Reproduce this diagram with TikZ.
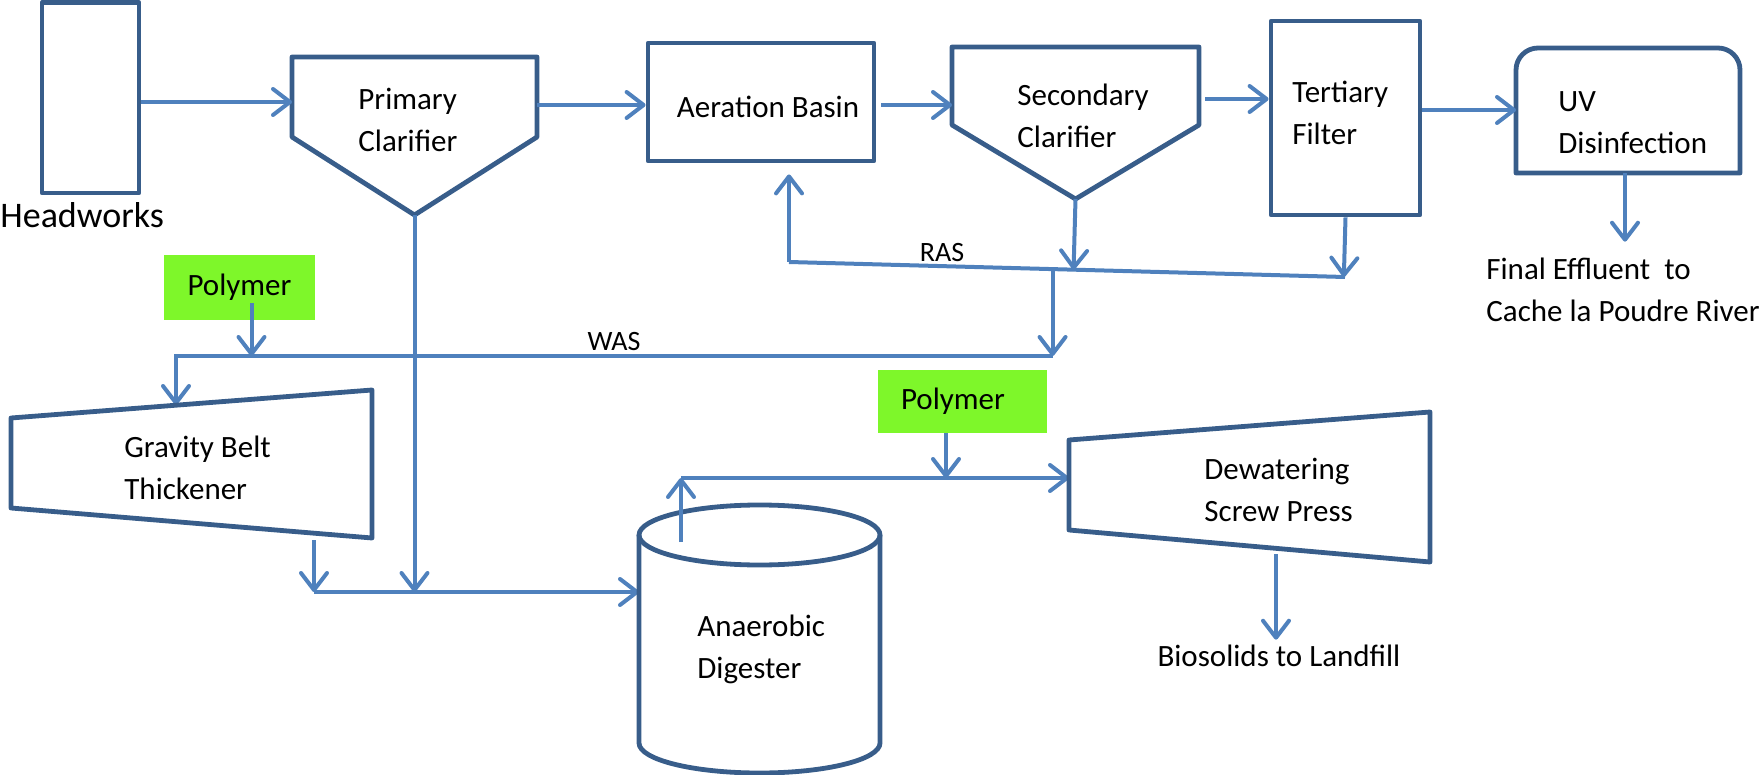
\documentclass[tikz,border=0pt]{standalone}
\usepackage{fontspec}
\setmainfont{Carlito}
\usetikzlibrary{arrows.meta}
\usetikzlibrary{calc}
\definecolor{boxblue}{RGB}{56,93,138}
\definecolor{pipeblue}{RGB}{79,129,189}
\definecolor{polygreen}{RGB}{126,247,42}
\tikzset{
  % outlines of the process units
  unit/.style={draw=boxblue, line width=2.4pt, line join=round},
  box/.style={unit, rectangle, inner sep=0pt},
  % pipes
  pipe/.style={pipeblue, line width=2pt},
  flow/.style={pipe, -{Straight Barb[length=8.5pt, width=13pt, round]}},
  % text
  txt/.style={font=\fontsize{15.5}{21}\selectfont, align=left, inner sep=0pt, anchor=west},
  tag/.style={font=\fontsize{14}{17}\selectfont, inner sep=0pt},
  chem/.style={fill=polygreen, inner sep=0pt, font=\fontsize{15.5}{18}\selectfont},
}

\begin{document}
\begin{tikzpicture}[x=0.5pt, y=-0.5pt]
  \useasboundingbox (0,0) rectangle (1761,775);

  % top line: liquid train
  \node[box, minimum width=48.5pt, minimum height=95.25pt] (hw) at (90.5,97.75) {};
  \node[txt, font=\fontsize{18}{20}\selectfont] (hwt) at (0,215) {Headworks};

  \draw[unit] (292,57) -- (537,57) -- (537,137) -- (414.5,215) coordinate (pc) -- (292,137) -- cycle;
  \coordinate (pc-in) at (292,102);
  \coordinate (pc-out) at (537,105);
  \node[txt] (pct) at (358,120) {Primary\\Clarifier};

  \node[box, minimum width=113pt, minimum height=59pt] (aer) at (761,102) {};
  \node[txt, anchor=center] (aert) at (768,107) {Aeration Basin};

  \draw[unit] (952,47) -- (1199,47) -- (1199,125) -- (1075.5,199) coordinate (sc) -- (952,125) -- cycle;
  \coordinate (sc-in) at (952,105);
  \coordinate (sc-out) at (1205,99);
  \node[txt] (sct) at (1017,116) {Secondary\\Clarifier};

  \node[box, minimum width=74.5pt, minimum height=97pt] (tert) at (1345.5,118) {};
  \node[txt] (tertt) at (1292,113) {Tertiary\\Filter};

  \draw[unit] (1516,173) -- (1516,110) [rounded corners=11pt] -- (1516,48) -- (1740,48) -- (1740,110) [sharp corners] -- (1740,173) -- cycle;
  \coordinate (uv-in) at (1516,110);
  \coordinate (uv-out) at (1625,173);
  \node[txt] (uvt) at (1558,123) {UV\\Disinfection};
  \node[txt] (fe) at (1486,290) {Final Effluent~ to\\Cache la Poudre River};

  \draw[flow] (hw.east |- pc-in) -- (pc-in);
  \draw[flow] (pc-out) -- (aer.west |- pc-out);
  \draw[flow] ([xshift=2.5pt]aer.east |- sc-in) -- (sc-in);
  \draw[flow] (sc-out) -- (tert.west |- sc-out);
  \draw[flow] (tert.east |- uv-in) -- (uv-in);
  \draw[flow] (uv-out) -- ([yshift=8pt]fe.north -| uv-out);

  % RAS and WAS
  \coordinate (ras-l) at (789,262);
  \coordinate (ras-r) at (1345,277);
  \coordinate (ras-m) at ($(ras-l)!0.474!(ras-r)$);
  \draw[pipe] (ras-l) -- (ras-r);
  \draw[flow] (ras-l) -- ([yshift=-5.5pt]aer.south -| ras-l);
  \draw[flow] (sc) -- ($(ras-l)!(sc)!(ras-r)$);
  \draw[flow] (tert.south) -- ($(ras-l)!(tert.south)!(ras-r)$);
  \node[tag] (ras) at (942,253) {RAS};

  \coordinate (was-l) at (176,356);
  \coordinate (was-r) at (ras-m |- was-l);
  \coordinate (gbt-in) at (176,405);
  \draw[flow] (ras-m) -- (was-r);
  \draw[flow] (was-r) -- (was-l) -- (gbt-in);
  \node[tag] (was) at (614,342) {WAS};

  \node[chem, minimum width=75.5pt, minimum height=32.5pt] (poly1) at (239.5,287.5) {Polymer};
  \draw[flow] ([xshift=6pt,yshift=8.5pt]poly1.south) -- ([xshift=6pt]poly1.south |- was-l);

  % solids train
  \draw[unit] (11,418) -- (372,390) -- (372,538) -- (11,508) -- cycle;
  \node[txt] (gbtt) at (124,468) {Gravity Belt\\Thickener};
  \coordinate (gbt-out) at (314,540);
  \coordinate (sl) at (314,592);
  \coordinate (dig-in) at (639,592);
  \draw[flow] (gbt-out) -- (sl);
  \draw[flow] (pc) -- (pc |- sl);
  \draw[flow] (sl) -- (dig-in);

  \draw[unit] (759.5,535) ellipse [x radius=60.25pt, y radius=15pt];
  \draw[unit] (639,535) -- (639,743) arc[start angle=180, end angle=360, x radius=60.25pt, y radius=15pt] -- (880,535);
  \node[txt] (digt) at (697,649) {Anaerobic\\Digester};
  \coordinate (dig-top) at (681,542);
  \coordinate (dp-c) at (681,478);
  \coordinate (dw-in) at (1069,478);
  \draw[flow] (dig-top) -- (dp-c);
  \draw[flow] (dp-c) -- (dw-in);

  \node[chem, minimum width=84.5pt, minimum height=31.5pt] (poly2) at (962.5,401.5) {Polymer\hspace*{9.5pt}};
  \draw[flow] ([xshift=-8.25pt]poly2.south) -- ([xshift=-8.25pt]poly2.south |- dw-in);

  \draw[unit] (1069,440) -- (1430,412) -- (1430,562) -- (1069,530) -- cycle;
  \node[txt] (dwt) at (1204,490) {Dewatering\\Screw Press};
  \coordinate (dw-out) at (1276,554);
  \node[txt, anchor=center] (bio) at (1279,656) {Biosolids to Landfill};
  \draw[flow] (dw-out) -- ([yshift=2.5pt]bio.north -| dw-out);
\end{tikzpicture}
\end{document}
